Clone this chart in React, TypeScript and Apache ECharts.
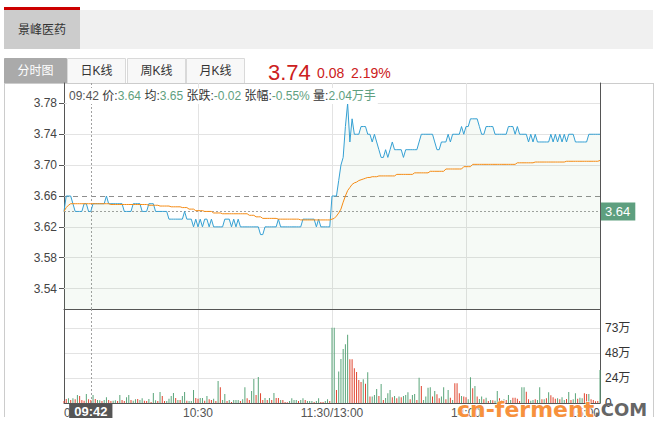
import React, { useEffect, useRef } from 'react';
import * as echarts from 'echarts';

const FONT = "'Liberation Sans', 'Noto Sans CJK SC', sans-serif";

const stockName = '景峰医药';
const tabNames = ['分时图', '日K线', '周K线', '月K线'];
const lastPrice = '3.74';
const changeAmt = '0.08';
const changePct = '2.19%';
const preClose = 3.66;
const priceTicks = [3.54, 3.58, 3.62, 3.66, 3.7, 3.74, 3.78];
const crossTime = '09:42';
const crossPrice = 3.64;
const infoLabels = ['价', '均', '张跌', '张幅', '量'];
const infoValues = ['3.64', '3.65', '-0.02', '-0.55%', '2.04万手'];
const watermarkA = 'cn-ferment';
const watermarkB = '.COM';

// 09:30..11:30 and 13:01..15:00
const times: string[] = [];
const pad = (n: number) => (n < 10 ? '0' + n : '' + n);
for (let m = 9 * 60 + 30; m <= 11 * 60 + 30; m++) times.push(pad(Math.floor(m / 60)) + ':' + pad(m % 60));
for (let m = 13 * 60 + 1; m <= 15 * 60; m++) times.push(pad(Math.floor(m / 60)) + ':' + pad(m % 60));

const morningPrice = [
  3.64, 3.66, 3.66, 3.66, 3.65, 3.64, 3.64, 3.64, 3.64, 3.65,
  3.65, 3.64, 3.64, 3.65, 3.65, 3.65, 3.65, 3.65, 3.65, 3.66,
  3.65, 3.65, 3.65, 3.65, 3.65, 3.65, 3.65, 3.64, 3.64, 3.64,
  3.64, 3.65, 3.65, 3.65, 3.65, 3.64, 3.64, 3.64, 3.65, 3.65,
  3.65, 3.64, 3.64, 3.64, 3.64, 3.64, 3.64, 3.63, 3.63, 3.63,
  3.63, 3.63, 3.63, 3.63, 3.64, 3.63, 3.63, 3.63, 3.62, 3.63,
  3.62, 3.63, 3.62, 3.63, 3.63, 3.62, 3.63, 3.62, 3.62, 3.62,
  3.62, 3.62, 3.63, 3.63, 3.63, 3.62, 3.63, 3.62, 3.63, 3.62,
  3.62, 3.62, 3.62, 3.62, 3.62, 3.62, 3.62, 3.62, 3.61, 3.61,
  3.62, 3.62, 3.62, 3.62, 3.62, 3.62, 3.63, 3.62, 3.62, 3.62,
  3.62, 3.62, 3.62, 3.62, 3.62, 3.62, 3.62, 3.63, 3.63, 3.63,
  3.63, 3.63, 3.63, 3.62, 3.63, 3.62, 3.62, 3.62, 3.62, 3.62,
  3.66,
];
const afternoonPrice = [
  3.66, 3.66, 3.68, 3.7, 3.71, 3.75, 3.78, 3.73, 3.76, 3.74,
  3.74, 3.74, 3.75, 3.75, 3.75, 3.74, 3.74, 3.73, 3.74, 3.73,
  3.72, 3.71, 3.71, 3.72, 3.71, 3.72, 3.73, 3.72, 3.72, 3.72,
  3.72, 3.71, 3.72, 3.72, 3.72, 3.72, 3.72, 3.72, 3.73, 3.74,
  3.74, 3.74, 3.74, 3.74, 3.74, 3.73, 3.72, 3.72, 3.73, 3.73,
  3.73, 3.74, 3.73, 3.74, 3.74, 3.74, 3.74, 3.75, 3.74, 3.75,
  3.75, 3.76, 3.76, 3.76, 3.76, 3.75, 3.74, 3.74, 3.75, 3.75,
  3.75, 3.75, 3.74, 3.74, 3.74, 3.74, 3.74, 3.74, 3.75, 3.75,
  3.75, 3.74, 3.75, 3.74, 3.74, 3.74, 3.74, 3.73, 3.74, 3.73,
  3.74, 3.73, 3.73, 3.73, 3.73, 3.73, 3.73, 3.74, 3.73, 3.74,
  3.73, 3.74, 3.73, 3.74, 3.73, 3.74, 3.74, 3.74, 3.73, 3.73,
  3.73, 3.73, 3.73, 3.73, 3.74, 3.74, 3.74, 3.74, 3.74, 3.74,
];
const avgPrice = [
  3.640, 3.645, 3.648, 3.650, 3.650, 3.650, 3.650, 3.650, 3.650, 3.650,
  3.650, 3.650, 3.650, 3.650, 3.650, 3.650, 3.650, 3.650, 3.650, 3.650,
  3.650, 3.649, 3.649, 3.649, 3.649, 3.649, 3.649, 3.649, 3.649, 3.649,
  3.649, 3.649, 3.649, 3.649, 3.649, 3.649, 3.649, 3.649, 3.648, 3.648,
  3.648, 3.648, 3.648, 3.647, 3.647, 3.647, 3.647, 3.647, 3.646, 3.646,
  3.646, 3.646, 3.646, 3.645, 3.645, 3.645, 3.643, 3.643, 3.643, 3.641,
  3.641, 3.641, 3.641, 3.640, 3.640, 3.640, 3.640, 3.638, 3.638, 3.638,
  3.638, 3.637, 3.637, 3.637, 3.637, 3.637, 3.637, 3.637, 3.637, 3.637,
  3.637, 3.637, 3.637, 3.635, 3.635, 3.635, 3.633, 3.633, 3.633, 3.631,
  3.631, 3.631, 3.631, 3.631, 3.631, 3.631, 3.630, 3.630, 3.630, 3.630,
  3.630, 3.630, 3.630, 3.630, 3.630, 3.630, 3.629, 3.629, 3.629, 3.629,
  3.629, 3.629, 3.629, 3.629, 3.629, 3.629, 3.629, 3.629, 3.629, 3.629,
  3.630, 3.631, 3.634, 3.638, 3.643, 3.652, 3.660, 3.667, 3.671, 3.675,
  3.677, 3.678, 3.680, 3.681, 3.682, 3.683, 3.684, 3.684, 3.685, 3.685,
  3.685, 3.686, 3.686, 3.686, 3.686, 3.686, 3.686, 3.686, 3.686, 3.688,
  3.688, 3.688, 3.688, 3.688, 3.688, 3.688, 3.688, 3.690, 3.690, 3.690,
  3.690, 3.690, 3.690, 3.690, 3.692, 3.692, 3.692, 3.692, 3.692, 3.692,
  3.692, 3.695, 3.695, 3.695, 3.695, 3.695, 3.695, 3.695, 3.695, 3.698,
  3.698, 3.698, 3.698, 3.701, 3.701, 3.701, 3.701, 3.701, 3.701, 3.701,
  3.701, 3.701, 3.701, 3.701, 3.701, 3.701, 3.701, 3.701, 3.701, 3.701,
  3.701, 3.701, 3.701, 3.703, 3.703, 3.703, 3.703, 3.703, 3.703, 3.703,
  3.703, 3.704, 3.704, 3.704, 3.704, 3.704, 3.704, 3.704, 3.704, 3.704,
  3.704, 3.704, 3.704, 3.704, 3.704, 3.705, 3.705, 3.705, 3.705, 3.705,
  3.705, 3.705, 3.705, 3.705, 3.705, 3.705, 3.705, 3.705, 3.705, 3.705,
  3.706,
];
// volume in 万
const morningVol = [
  2.0,
  3.9, 4.5, 2.9, 4.5, 3.6, 7.8, 6.8, 2.9, 2.3, 8.8,
  3.6, 2.9, 7.8, 3.9, 2.9, 2.6, 1.9, 2.9, 5.5, 2.9,
  1.9, 2.3, 2.6, 1.9, 7.8, 2.9, 1.9, 5.5, 7.8, 2.9,
  2.3, 3.6, 3.9, 2.9, 4.5, 2.3, 1.9, 3.9, 1.0, 9.7,
  2.6, 1.9, 10.7, 6.8, 1.9, 1.9, 4.2, 6.8, 9.7, 4.9,
  2.9, 2.9, 6.8, 10.7, 2.3, 1.9, 1.9, 12.7, 4.9, 4.2,
  4.9, 4.9, 2.3, 6.8, 3.6, 2.9, 4.2, 1.9, 21.4, 15.2,
  2.9, 8.8, 1.9, 2.9, 1.0, 2.9, 2.9, 2.9, 1.9, 3.6,
  15.2, 4.5, 2.9, 11.7, 23.4, 7.8, 25.3, 9.4, 2.9, 4.9,
  2.9, 4.9, 2.9, 9.7, 4.9, 4.9, 2.9, 2.9, 1.0, 0.7,
  1.9, 4.5, 2.9, 2.9, 1.9, 2.9, 4.5, 2.9, 1.9, 1.9,
  1.9, 1.0, 1.9, 4.5, 1.0, 1.0, 1.9, 3.6, 1.9,
];
const afternoonVol = [
  73, 73, 12.7, 30.5, 42.8, 52.3, 57.1, 66.2, 42.5, 42.5,
  33.7, 30.2, 22.4, 20.4, 23.0, 18.8, 29.8, 6.2, 6.2, 7.8,
  13.6, 6.8, 18.5, 2.9, 4.9, 9.4, 12.7, 5.5, 6.8, 4.5,
  6.2, 5.5, 6.8, 7.8, 10.4, 3.6, 7.8, 8.8, 2.9, 24.6,
  16.5, 2.9, 6.2, 14.9, 15.2, 6.2, 11.7, 8.4, 4.5, 6.2,
  15.2, 3.6, 12.7, 5.2, 2.9, 19.1, 19.1, 9.4, 6.8, 6.2,
  5.5, 3.6, 25.0, 14.3, 16.5, 6.2, 3.9, 6.2, 3.6, 5.2,
  1.9, 2.9, 2.6, 2.3, 11.7, 4.5, 2.9, 3.6, 2.9, 7.8,
  2.9, 5.2, 5.2, 4.2, 1.9, 15.2, 15.2, 11.0, 3.6, 2.3,
  2.9, 3.6, 2.9, 15.2, 3.6, 3.6, 4.5, 10.4, 7.5, 5.5,
  4.2, 4.5, 3.6, 5.5, 2.9, 3.9, 10.7, 2.9, 3.6, 9.4,
  4.2, 5.2, 4.5, 9.4, 8.8, 8.8, 3.6, 2.9, 1.6, 1.9,
  32.1,
];
// r = red bar, g = green bar
const morningVolColor =
  'r' + 'rgrgrgrrrg' + 'rrgrggrggr' + 'rggrgrrggr' + 'ggrggrrgrg' + 'grgrrggggr' + 'grggrgggrr' +
  'ggrgrrgrgr' + 'ggrgrgggrg' + 'grrggrgrrg' + 'rgrgrrgrrr' + 'ggggrggrgg' + 'grggrrggr';
const afternoonVolColor =
  'ggrgggggrr' + 'rrrrgrgrgg' + 'grgrgggrgr' + 'grgggrggrg' + 'rggggrgrrg' + 'grgrgrrrgr' +
  'rggrgrggrg' + 'rgrggrrgrg' + 'grrrrggrrg' + 'grggrgrgrr' + 'rgrggrgrgg' + 'rggrrgrrrr' + 'g';

const BLUE = '#35a0d3';
const ORANGE = '#f58b14';
const RED_BAR = '#e0452f';
const GREEN_BAR = '#5aa57a';
const RED_TXT = '#de5446';
const GREEN_TXT = '#62a886';
const GREEN_VAL = '#5f9f80';

function buildOption() {
  const prices = morningPrice.concat(afternoonPrice);
  const volumes = morningVol.concat(afternoonVol);
  const volColors = (morningVolColor + afternoonVolColor).split('');
  const priceMin = preClose * 0.96;
  const priceMax = preClose * 1.04;
  const volMax = Math.max(...volumes);
  const volTop = volMax * 1.25;
  const volInterval = volMax / 3;

  const gridSplit = {
    show: true,
    interval: (i: number) => i % 60 === 0 && i > 0 && i < times.length - 1,
    lineStyle: { color: '#e3e3e3', width: 1 },
  };

  const pctText = (v: number) => Math.abs(((v - preClose) / preClose) * 100).toFixed(2) + '%';

  const infoRich = '{t|' + crossTime + '}' + infoLabels
    .map((l, k) => ' {l|' + l + ':}{v|' + infoValues[k] + '}')
    .join('');

  const tabBoxes = [
    { x: 4, w: 63 },
    { x: 67, w: 59 },
    { x: 127, w: 59 },
    { x: 186, w: 59 },
  ];

  const graphic: any[] = [
    { type: 'rect', shape: { x: 4, y: 7, width: 76, height: 3 }, style: { fill: '#cc0000' } },
    { type: 'rect', shape: { x: 4, y: 10, width: 649, height: 39 }, style: { fill: '#f0f0f0' } },
    { type: 'rect', shape: { x: 4, y: 10, width: 76, height: 39 }, style: { fill: '#cccccc' } },
    {
      type: 'text', x: 42, y: 30,
      style: { text: stockName, fill: '#333', fontSize: 12, fontFamily: FONT, align: 'center', verticalAlign: 'middle' },
    },
    ...tabBoxes.map((b, k) => ({
      type: 'rect',
      shape: { x: b.x + 0.5, y: 58.5, width: b.w - 1, height: 25 },
      style: { fill: k === 0 ? '#aaaaaa' : '#f8f8f8', stroke: k === 0 ? '#aaaaaa' : '#d9d9d9', lineWidth: 1 },
    })),
    ...tabNames.map((t, k) => ({
      type: 'text', x: tabBoxes[k].x + tabBoxes[k].w / 2, y: 71,
      style: { text: t, fill: k === 0 ? '#fff' : '#333', fontSize: 12, fontFamily: FONT, align: 'center', verticalAlign: 'middle' },
    })),
    {
      type: 'text', x: 268, y: 72,
      style: { text: lastPrice, fill: '#cc2020', fontSize: 22, fontFamily: FONT, align: 'left', verticalAlign: 'middle' },
    },
    {
      type: 'text', x: 317, y: 72.5,
      style: { text: changeAmt, fill: '#cc2020', fontSize: 14, fontFamily: FONT, align: 'left', verticalAlign: 'middle' },
    },
    {
      type: 'text', x: 351, y: 72.5,
      style: { text: changePct, fill: '#cc2020', fontSize: 14, fontFamily: FONT, align: 'left', verticalAlign: 'middle' },
    },
    // outer frame
    { type: 'line', shape: { x1: 4, y1: 83.5, x2: 654, y2: 83.5 }, style: { stroke: '#cccccc', lineWidth: 1 } },
    { type: 'line', shape: { x1: 4.5, y1: 83, x2: 4.5, y2: 417 }, style: { stroke: '#cccccc', lineWidth: 1 } },
    { type: 'line', shape: { x1: 653.5, y1: 83, x2: 653.5, y2: 417 }, style: { stroke: '#cccccc', lineWidth: 1 } },
    {
      type: 'text', x: 67, y: 96, z: 50,
      style: {
        text: infoRich, fontSize: 12, fontFamily: FONT, verticalAlign: 'middle', align: 'left',
        backgroundColor: '#ffffff', padding: [2, 2, 2, 2],
        rich: {
          t: { fill: '#555', fontSize: 12, fontFamily: FONT },
          l: { fill: '#333', fontSize: 12, fontFamily: FONT },
          v: { fill: GREEN_VAL, fontSize: 12, fontFamily: FONT },
        },
      },
    },
    {
      type: 'text', x: 457, y: 409, z: 60,
      style: {
        text: watermarkA, fill: '#f7913d', fontSize: 22, fontWeight: 'bold', fontFamily: "'DejaVu Sans', sans-serif",
        align: 'left', verticalAlign: 'middle', stroke: '#ffffff', lineWidth: 1,
      },
    },
    {
      type: 'text', x: 594, y: 409.5, z: 60,
      style: {
        text: watermarkB, fill: '#666666', fontSize: 18, fontWeight: 'bold', fontFamily: "'DejaVu Sans', sans-serif",
        align: 'left', verticalAlign: 'middle',
      },
    },
  ];

  const dotted = { color: '#a0a0a0', type: [2, 2], width: 1 };

  const priceMarks: any[] = priceTicks.map((v) => ({
    yAxis: v,
    lineStyle: v === preClose ? { color: '#8e8e8e', type: [5, 4], width: 1 } : { color: '#e3e3e3', type: 'solid', width: 1 },
    label: { show: true, position: 'start', formatter: v.toFixed(2), color: '#444', fontSize: 12, fontFamily: FONT, distance: 7 },
  }));
  priceMarks.push({
    yAxis: crossPrice,
    lineStyle: dotted,
    label: {
      show: true, position: 'end', formatter: crossPrice.toFixed(2), color: '#fff', fontSize: 13, fontFamily: FONT,
      backgroundColor: '#5e9f7f', padding: [3, 5, 2, 4], distance: 1,
    },
  });
  priceMarks.push({ xAxis: crossTime, lineStyle: dotted, label: { show: false } });

  const pctMarks = priceTicks.map((v) => ({
    yAxis: v,
    lineStyle: { opacity: 0 },
    label: {
      show: true, position: 'end', formatter: pctText(v), fontSize: 12, fontFamily: FONT, distance: 5,
      color: v > preClose ? RED_TXT : v < preClose ? GREEN_TXT : '#999',
    },
  }));

  return {
    animation: false,
    backgroundColor: '#ffffff',
    textStyle: { fontFamily: FONT },
    graphic,
    grid: [
      { left: 64, top: 83, width: 536, height: 226 },
      { left: 64, top: 309, width: 536, height: 94 },
    ],
    xAxis: [
      {
        type: 'category', gridIndex: 0, data: times, boundaryGap: false,
        axisLine: { show: true, onZero: false, lineStyle: { color: '#555', width: 1 } },
        axisTick: { show: false }, axisLabel: { show: false }, splitLine: gridSplit,
      },
      {
        type: 'category', gridIndex: 1, data: times, boundaryGap: false,
        axisLine: { show: true, onZero: false, lineStyle: { color: '#555', width: 1 } },
        axisTick: { show: false },
        axisLabel: {
          show: true, interval: (i: number) => i % 60 === 0,
          formatter: (v: string, i: number) => (i === 120 ? '11:30/13:00' : v),
          color: '#555', fontSize: 12, fontFamily: FONT, margin: 4,
          showMinLabel: true, showMaxLabel: true, alignMinLabel: 'left', alignMaxLabel: 'right',
        },
        splitLine: gridSplit,
      },
    ],
    yAxis: [
      {
        type: 'value', gridIndex: 0, position: 'left', min: priceMin, max: priceMax,
        axisLine: { show: true, lineStyle: { color: '#555', width: 1 } },
        axisTick: { show: true, customValues: priceTicks, length: 5, lineStyle: { color: '#555' } },
        axisLabel: { show: false }, splitLine: { show: false },
      },
      {
        type: 'value', gridIndex: 0, position: 'right', min: priceMin, max: priceMax,
        axisLine: { show: true, lineStyle: { color: '#555', width: 1 } },
        axisTick: { show: false }, axisLabel: { show: false }, splitLine: { show: false },
      },
      {
        type: 'value', gridIndex: 1, position: 'right', min: 0, max: volTop, interval: volInterval,
        axisLine: { show: true, lineStyle: { color: '#555', width: 1 } },
        axisTick: { show: false },
        axisLabel: {
          color: '#333', fontSize: 12, fontFamily: FONT, margin: 5,
          formatter: (v: number) => (v > volMax + 0.5 ? '' : v === 0 ? '0' : Math.floor(v + 1e-6) + '万'),
        },
        splitLine: { show: true, lineStyle: { color: '#e3e3e3', width: 1 } },
      },
      {
        type: 'value', gridIndex: 1, position: 'left', min: 0, max: volTop, interval: volInterval,
        axisLine: { show: true, lineStyle: { color: '#555', width: 1 } },
        axisTick: { show: false }, axisLabel: { show: false }, splitLine: { show: false },
      },
    ],
    series: [
      {
        name: '价', type: 'line', xAxisIndex: 0, yAxisIndex: 0, data: prices,
        symbol: 'none', showSymbol: false,
        lineStyle: { color: BLUE, width: 1 },
        areaStyle: { color: 'rgba(110,180,110,0.09)', origin: 'start' },
        markLine: { silent: true, symbol: ['none', 'none'], z: 1, data: priceMarks },
      },
      {
        name: '均', type: 'line', xAxisIndex: 0, yAxisIndex: 0, data: avgPrice,
        symbol: 'none', showSymbol: false,
        lineStyle: { color: ORANGE, width: 1 },
        markLine: { silent: true, symbol: ['none', 'none'], data: pctMarks },
      },
      {
        name: '量', type: 'bar', xAxisIndex: 1, yAxisIndex: 2, barWidth: 1,
        data: volumes.map((v, i) => ({ value: v, itemStyle: { color: volColors[i] === 'r' ? RED_BAR : GREEN_BAR } })),
        markLine: {
          silent: true, symbol: ['none', 'none'],
          data: [{
            xAxis: crossTime, lineStyle: dotted,
            label: {
              show: true, position: 'start', formatter: crossTime, color: '#fff', fontSize: 13, fontWeight: 'bold',
              fontFamily: FONT, backgroundColor: '#555555', padding: [1, 5, 0, 5], distance: 1,
            },
          }],
        },
      },
    ],
  };
}

export default function App() {
  const ref = useRef<HTMLDivElement>(null);
  useEffect(() => {
    if (!ref.current) return;
    const chart = echarts.init(ref.current, null, { renderer: 'svg' });
    chart.setOption(buildOption() as any);
    return () => chart.dispose();
  }, []);
  return (
    <div
      ref={ref}
      style={{ position: 'absolute', left: 0, top: 0, width: 662, height: 432, background: '#fff' }}
    />
  );
}
